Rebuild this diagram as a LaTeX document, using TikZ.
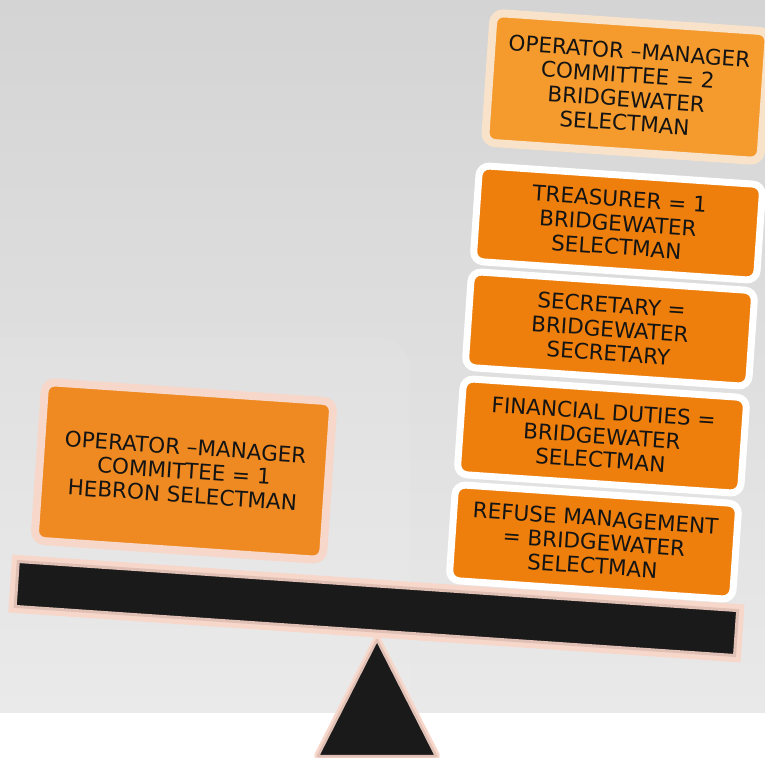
\documentclass[tikz,border=0pt]{standalone}
\usepackage{fontspec}
\setmainfont{DejaVu Sans}
\usetikzlibrary{positioning}

\definecolor{bgtop}{HTML}{D4D4D4}
\definecolor{bgmid}{HTML}{E1E1E1}
\definecolor{bgbot}{HTML}{E9E9E9}
\definecolor{leftorange}{HTML}{EF8A22}
\definecolor{toporange}{HTML}{F59A2C}
\definecolor{stackorange}{HTML}{EE7F0D}
\definecolor{glowpink}{HTML}{F7D7CA}
\definecolor{glowcream}{HTML}{F8E2C9}
\definecolor{beamblack}{HTML}{1A1A1A}
\definecolor{beamedge}{HTML}{E0C0B4}
\definecolor{textblack}{HTML}{141414}

\begin{document}
\begin{tikzpicture}[x=1pt, y=-1pt,
    card/.style={rectangle, rounded corners=10pt, rotate=-3.9, align=center,
        font=\fontsize{21.5}{24}\selectfont, text=textblack, inner sep=4pt},
    leftcard/.style={card, fill=leftorange, draw=glowpink, line width=8pt,
        minimum width=289pt, minimum height=159pt},
    topcard/.style={card, fill=toporange, draw=glowcream, line width=8pt,
        minimum width=276pt, minimum height=130pt},
    stackcard/.style={card, fill=stackorange, draw=white, line width=7pt,
        minimum width=284pt, minimum height=96pt},
    beam/.style={rectangle, fill=beamblack, draw=beamedge, line width=3pt,
        preaction={draw=glowpink, line width=13pt},
        minimum width=721pt, minimum height=45pt, rotate=-3.9},
    fulcrum/.style={fill=beamblack, draw=beamedge, line width=2.5pt, line join=round,
        preaction={draw=glowpink, line width=8pt, line join=round}}
]
\useasboundingbox (0,0) rectangle (765,757);

% Background
\shade[top color=bgtop, middle color=bgmid, bottom color=bgbot] (0,0) rectangle (765,713);
\fill[white, opacity=0.08, rounded corners=30pt] (-40,338) rectangle (410,713);
\fill[white] (0,713) rectangle (765,757);

% Fulcrum and beam
\draw[fulcrum] (377,640) -- (436,756) -- (318,756) -- cycle;
\node[beam] (beam) at (376.4,608.5) {};

% Left side
\node[leftcard] (hebron) at (184,471) {OPERATOR –MANAGER\\COMMITTEE = 1\\HEBRON SELECTMAN};

% Right side stack
\node[topcard] (opmgr) at (627,87) {OPERATOR –MANAGER\\COMMITTEE = 2\\BRIDGEWATER\\SELECTMAN};
\node[stackcard] (treasurer) at (618,223) {TREASURER = 1\\BRIDGEWATER\\SELECTMAN};
\node[stackcard] (secretary) at (610,329) {SECRETARY =\\BRIDGEWATER\\SECRETARY};
\node[stackcard] (financial) at (602,436) {FINANCIAL DUTIES =\\BRIDGEWATER\\SELECTMAN};
\node[stackcard] (refuse) at (594,542) {REFUSE MANAGEMENT\\= BRIDGEWATER\\SELECTMAN};

\end{tikzpicture}
\end{document}
